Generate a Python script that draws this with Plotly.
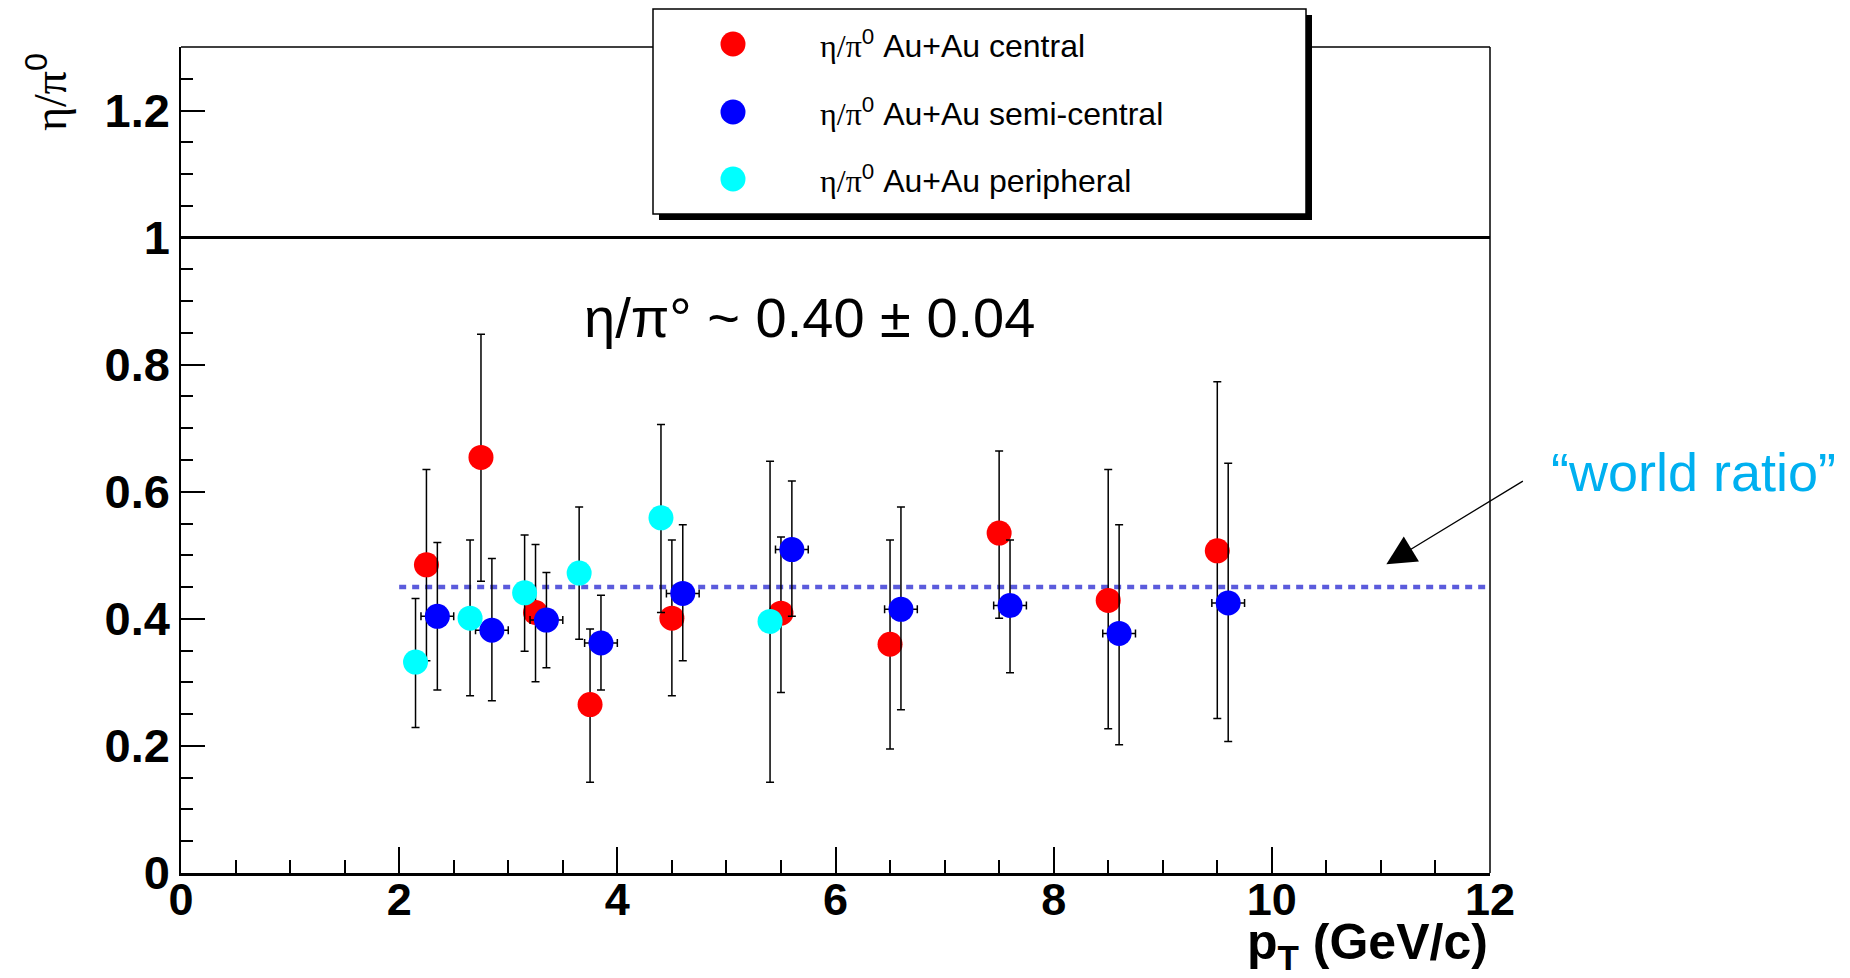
import plotly.graph_objects as go

# eta/pi0 ratio vs pT for three Au+Au centrality classes
pt_central = [2.25, 2.75, 3.25, 3.75, 4.5, 5.5, 6.5, 7.5, 8.5, 9.5]
r_central = [0.485, 0.654, 0.410, 0.265, 0.401, 0.409, 0.360, 0.535, 0.429, 0.507]
hi_central = [0.635, 0.848, 0.517, 0.384, 0.524, 0.529, 0.524, 0.664, 0.635, 0.773]
lo_central = [0.334, 0.459, 0.301, 0.143, 0.279, 0.284, 0.195, 0.401, 0.227, 0.243]

pt_semi = [2.35, 2.85, 3.35, 3.85, 4.6, 5.6, 6.6, 7.6, 8.6, 9.6]
r_semi = [0.404, 0.382, 0.398, 0.362, 0.440, 0.509, 0.415, 0.421, 0.377, 0.425]
hi_semi = [0.520, 0.495, 0.473, 0.437, 0.548, 0.617, 0.576, 0.524, 0.548, 0.645]
lo_semi = [0.288, 0.271, 0.323, 0.288, 0.334, 0.404, 0.257, 0.315, 0.202, 0.207]
dpt_semi = [0.15] * len(pt_semi)

pt_peri = [2.15, 2.65, 3.15, 3.65, 4.4, 5.4]
r_peri = [0.332, 0.401, 0.441, 0.472, 0.559, 0.396]
hi_peri = [0.432, 0.524, 0.532, 0.576, 0.706, 0.648]
lo_peri = [0.229, 0.279, 0.349, 0.368, 0.410, 0.143]

world_ratio = 0.45
world_range = [2.0, 12.0]

GREEK = '<span style="font-family:Liberation Serif, Times New Roman, serif">η/π</span>'
series_names = [
    GREEK + "<sup>0</sup> Au+Au central",
    GREEK + "<sup>0</sup> Au+Au semi-central",
    GREEK + "<sup>0</sup> Au+Au peripheral",
]
series_colors = ["#ff0000", "#0000ff", "#00ffff"]

FONT = "Liberation Sans, Arial, Helvetica, sans-serif"

W, H = 1850, 978
ML, MR, MT, MB = 181, 360, 47, 105
PW, PH = W - ML - MR, H - MT - MB


def px_x(px):
    return (px - ML) / PW


def px_y(py):
    return (H - MB - py) / PH


def up(v, hi):
    return [h - x for x, h in zip(v, hi)]


def down(v, lo):
    return [x - l for x, l in zip(v, lo)]


fig = go.Figure()

fig.add_trace(go.Scatter(
    x=world_range, y=[world_ratio, world_ratio], mode="lines",
    line=dict(color="#5b5bdc", width=4.5, dash="7px,6px"),
    showlegend=False, hoverinfo="skip",
))

groups = [
    (pt_central, r_central, hi_central, lo_central, None),
    (pt_semi, r_semi, hi_semi, lo_semi, dpt_semi),
    (pt_peri, r_peri, hi_peri, lo_peri, None),
]
for (x, y, hi, lo, dx), name, col in zip(groups, series_names, series_colors):
    fig.add_trace(go.Scatter(
        x=x, y=y, mode="markers", name=name,
        marker=dict(symbol="circle", size=25, color=col, line=dict(width=0)),
        error_y=dict(type="data", symmetric=False, array=up(y, hi),
                     arrayminus=down(y, lo), color="black", thickness=1.5, width=4),
        error_x=(dict(type="data", array=dx, color="black", thickness=1.5, width=4)
                 if dx else None),
        showlegend=False,
    ))

shapes = [
    # line at ratio = 1
    dict(type="line", xref="x", yref="y", x0=0, x1=12, y0=1, y1=1,
         line=dict(color="black", width=3), layer="above"),
    # top and right frame
    dict(type="line", xref="paper", yref="paper", x0=0, x1=1, y0=1, y1=1,
         line=dict(color="black", width=1.5), layer="above"),
    dict(type="line", xref="paper", yref="paper", x0=1, x1=1, y0=0, y1=1,
         line=dict(color="black", width=1.5), layer="above"),
]

# legend box with drop shadow
bx0, bx1, by0, by1 = px_x(653), px_x(1306), px_y(214), px_y(9)
sdx, sdy = 6 / PW, 6 / PH
shapes.append(dict(type="rect", xref="paper", yref="paper",
                   x0=bx0 + sdx, x1=bx1 + sdx, y0=by0 - sdy, y1=by1 - sdy,
                   fillcolor="black", line=dict(width=0), layer="above"))
shapes.append(dict(type="rect", xref="paper", yref="paper",
                   x0=bx0, x1=bx1, y0=by0, y1=by1,
                   fillcolor="white", line=dict(color="black", width=1.5), layer="above"))

annotations = []
row_y = [44, 112, 179]
for name, col, ry in zip(series_names, series_colors, row_y):
    shapes.append(dict(type="circle", xref="paper", yref="paper",
                       xsizemode="pixel", ysizemode="pixel",
                       xanchor=px_x(733), yanchor=px_y(ry),
                       x0=-12.5, x1=12.5, y0=-12.5, y1=12.5,
                       fillcolor=col, line=dict(width=0), layer="above"))
    annotations.append(dict(xref="paper", yref="paper", x=px_x(818), y=px_y(ry),
                            xanchor="left", yanchor="middle", showarrow=False,
                            text=name, font=dict(family=FONT, size=32, color="black")))

annotations += [
    dict(xref="x", yref="y", x=5.76, y=0.874, text="η/π° ~ 0.40 ± 0.04",
         showarrow=False, font=dict(family=FONT, size=56, color="black")),
    dict(xref="paper", yref="paper", x=px_x(1549), y=px_y(472), xanchor="left",
         yanchor="middle", text="“world ratio”", showarrow=False,
         font=dict(family=FONT, size=54, color="#00b0f0")),
    dict(xref="x", yref="y", x=11.05, y=0.486, ax=138, ay=-84, text="",
         showarrow=True, arrowhead=2, arrowsize=4.5, arrowwidth=1.3,
         arrowcolor="black", standoff=0),
    dict(xref="paper", yref="paper", x=1.0, y=px_y(946), xanchor="right",
         yanchor="middle", text="<b>p<sub>T</sub> (GeV/c)</b>", showarrow=False,
         font=dict(family=FONT, size=50, color="black")),
    dict(xref="paper", yref="paper", x=px_x(47), y=px_y(92), xanchor="center",
         yanchor="middle", text=GREEK + "<sup>0</sup>", textangle=-90, showarrow=False,
         font=dict(family=FONT, size=46, color="black")),
]

fig.update_layout(
    width=W, height=H,
    margin=dict(l=ML, r=MR, t=MT, b=MB),
    plot_bgcolor="white", paper_bgcolor="white",
    showlegend=False,
    shapes=shapes, annotations=annotations,
    xaxis=dict(range=[0, 12], showgrid=False, zeroline=False,
               showline=True, linecolor="black", linewidth=3,
               ticks="inside", ticklen=26, tickwidth=1.5, tickcolor="black",
               tick0=0, dtick=2, ticklabelstandoff=-15,
               minor=dict(ticks="inside", ticklen=13, tickwidth=1.5,
                          tickcolor="black", dtick=0.5, showgrid=False),
               tickfont=dict(family=FONT, size=45, color="black", weight="bold")),
    yaxis=dict(range=[0, 1.3], showgrid=False, zeroline=False,
               showline=True, linecolor="black", linewidth=1.5,
               ticks="inside", ticklen=24, tickwidth=1.5, tickcolor="black",
               tick0=0, dtick=0.2,
               minor=dict(ticks="inside", ticklen=12, tickwidth=1.5,
                          tickcolor="black", dtick=0.05, showgrid=False),
               tickfont=dict(family=FONT, size=47, color="black", weight="bold")),
)

fig.write_html("out.html")
